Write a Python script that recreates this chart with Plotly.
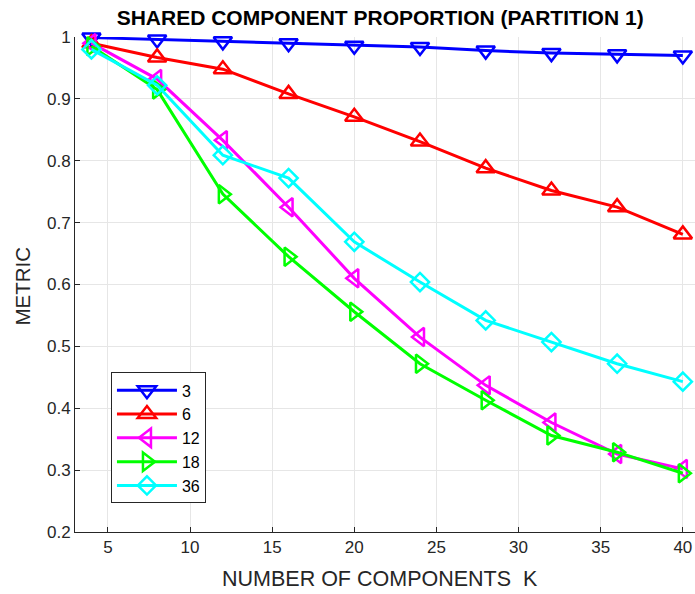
import plotly.graph_objects as go

k_values = [4, 8, 12, 16, 20, 24, 28, 32, 36, 40]
series_names = ["3", "6", "12", "18", "36"]
s3 = [0.999, 0.996, 0.993, 0.990, 0.986, 0.984, 0.978, 0.974, 0.972, 0.970]
s6 = [0.990, 0.967, 0.948, 0.908, 0.871, 0.831, 0.788, 0.752, 0.725, 0.681]
s12 = [0.990, 0.932, 0.833, 0.725, 0.610, 0.515, 0.437, 0.377, 0.326, 0.302]
s18 = [0.985, 0.915, 0.746, 0.645, 0.556, 0.472, 0.413, 0.356, 0.329, 0.295]
s36 = [0.980, 0.922, 0.809, 0.772, 0.669, 0.604, 0.542, 0.507, 0.472, 0.443]
x_ticks = [5, 10, 15, 20, 25, 30, 35, 40]
y_ticks = [0.2, 0.3, 0.4, 0.5, 0.6, 0.7, 0.8, 0.9, 1]
y_tick_text = ["0.2", "0.3", "0.4", "0.5", "0.6", "0.7", "0.8", "0.9", "1"]

colors = ["#0000ff", "#ff0000", "#ff00ff", "#00ff00", "#00ffff"]
symbols = ["triangle-down-open", "triangle-up-open", "triangle-left-open",
           "triangle-right-open", "diamond-open"]
sizes = [16, 16, 16, 16, 14]
all_series = [s3, s6, s12, s18, s36]

fig = go.Figure()
for name, ys, c, sym, sz in zip(series_names, all_series, colors, symbols, sizes):
    fig.add_trace(go.Scatter(
        x=k_values, y=ys, name=name, mode="lines+markers",
        line=dict(color=c, width=3),
        marker=dict(symbol=sym, size=sz, color=c, line=dict(color=c, width=2.5)),
        cliponaxis=False,
    ))

font_main = "Liberation Sans, Arial, Helvetica, sans-serif"
fig.update_layout(
    width=695, height=594,
    margin=dict(l=75, r=0, t=37, b=62),
    paper_bgcolor="white", plot_bgcolor="white",
    font=dict(family=font_main, size=17, color="#262626"),
    title=dict(text="<b>SHARED COMPONENT PROPORTION (PARTITION 1)</b>",
               x=0.547, xanchor="center", xref="container",
               y=0.97, yanchor="middle", yref="container",
               font=dict(size=21, color="black", family=font_main)),
    showlegend=True,
    legend=dict(x=0.058, y=0.3225, xanchor="left", yanchor="top",
                bgcolor="white", bordercolor="#262626", borderwidth=1,
                font=dict(size=16, color="black"), tracegroupgap=0,
                itemwidth=60),
    annotations=[
        dict(text="NUMBER OF COMPONENTS  K", xref="paper", yref="paper",
             x=(380 - 75) / 620, y=-0.094, xanchor="center", yanchor="middle",
             showarrow=False, font=dict(size=21.5, color="#262626")),
        dict(text="METRIC", xref="paper", yref="paper",
             x=(22 - 75) / 620, y=(531.5 - 286) / 495, xanchor="center", yanchor="middle",
             textangle=-90, showarrow=False, font=dict(size=20.5, color="#262626")),
    ],
)
fig.update_xaxes(
    range=[3, 40.74], tickvals=x_ticks, ticks="inside", ticklen=5,
    tickcolor="#262626", showline=True, linecolor="#262626", linewidth=1,
    showgrid=True, gridcolor="#e6e6e6", gridwidth=1, zeroline=False,
    automargin=False, tickfont=dict(size=17, color="#262626"),
)
fig.update_yaxes(
    range=[0.2, 1.0], tickvals=y_ticks, ticktext=y_tick_text, ticks="inside", ticklen=5,
    tickcolor="#262626", showline=True, linecolor="#262626", linewidth=1,
    showgrid=True, gridcolor="#e6e6e6", gridwidth=1, zeroline=False,
    automargin=False, tickfont=dict(size=17, color="#262626"),
)
fig.write_html("out.html", config={"displayModeBar": False},
               post_script="document.body.style.margin='0';document.body.style.overflow='hidden';")
